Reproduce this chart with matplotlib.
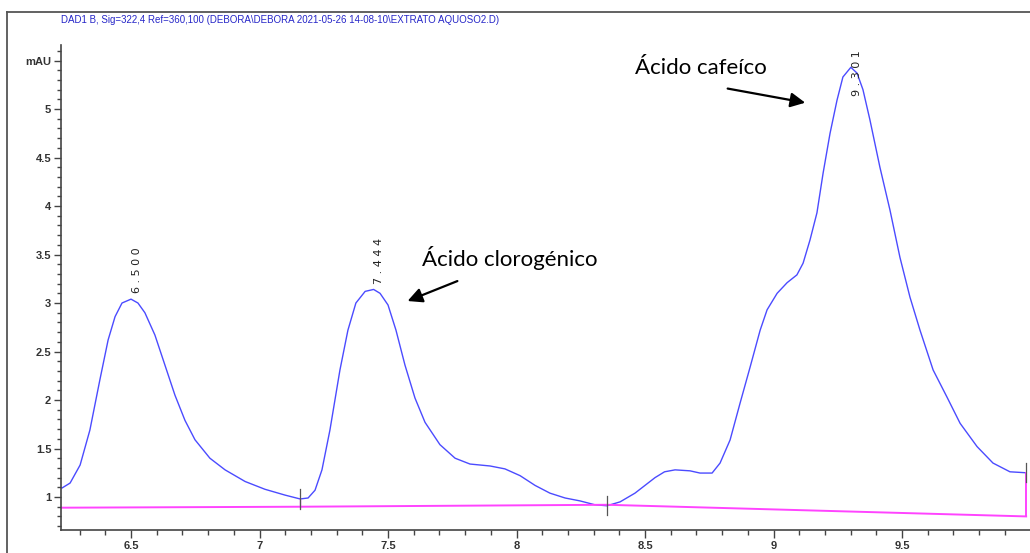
import matplotlib.pyplot as plt
from matplotlib.lines import Line2D
from matplotlib.ticker import MultipleLocator, FixedLocator, FormatStrFormatter

# DAD1 B trace (retention time in min, absorbance in mAU)
rt = [6.2315, 6.263, 6.302, 6.340, 6.379, 6.411, 6.438, 6.465, 6.500, 6.527,
      6.554, 6.593, 6.632, 6.671, 6.710, 6.749, 6.807, 6.866, 6.944, 7.021,
      7.099, 7.158, 7.189, 7.216, 7.243, 7.274, 7.313, 7.344, 7.375, 7.411,
      7.444, 7.469, 7.500, 7.531, 7.566, 7.605, 7.644, 7.702, 7.761, 7.819,
      7.897, 7.955, 8.014, 8.072, 8.130, 8.189, 8.247, 8.305, 8.352, 8.403,
      8.461, 8.500, 8.539, 8.576, 8.617, 8.675, 8.714, 8.761, 8.792, 8.831,
      8.870, 8.909, 8.948, 8.975, 9.014, 9.053, 9.091, 9.115, 9.142, 9.169,
      9.193, 9.220, 9.247, 9.270, 9.301, 9.325, 9.348, 9.375, 9.414, 9.453,
      9.492, 9.531, 9.570, 9.621, 9.675, 9.726, 9.792, 9.854, 9.920, 9.983]
mau = [1.093, 1.144, 1.33, 1.69, 2.21, 2.62, 2.86, 3.00, 3.04, 3.00,
       2.90, 2.67, 2.36, 2.05, 1.79, 1.59, 1.40, 1.28, 1.16, 1.08,
       1.02, 0.98, 0.99, 1.07, 1.28, 1.69, 2.31, 2.72, 3.00, 3.12,
       3.14, 3.10, 2.98, 2.72, 2.36, 2.02, 1.77, 1.54, 1.40, 1.34,
       1.32, 1.29, 1.22, 1.12, 1.04, 0.99, 0.96, 0.92, 0.91, 0.95,
       1.04, 1.12, 1.20, 1.26, 1.28, 1.27, 1.247, 1.247, 1.35, 1.588,
       1.969, 2.34, 2.72, 2.93, 3.10, 3.21, 3.29, 3.41, 3.65, 3.93,
       4.34, 4.75, 5.09, 5.33, 5.43, 5.37, 5.20, 4.89, 4.40, 3.96,
       3.47, 3.06, 2.72, 2.31, 2.03, 1.76, 1.52, 1.35, 1.26, 1.25]

# integration baseline
base_rt = [6.2315, 7.158, 8.352, 9.983]
base_mau = [0.89, 0.90, 0.92, 0.80]

# peak retention times and apex heights
peak_rt = [6.500, 7.444, 9.301]
peak_mau = [3.04, 3.14, 5.43]
peak_labels = ['6 . 5 0 0', '7 . 4 4 4', '9 . 3 0 1']

# peak boundaries (start/end marks)
cut_rt = [7.158, 8.352, 9.983]
cut_mau = [0.98, 0.91, 1.25]

title = 'DAD1 B, Sig=322,4 Ref=360,100 (DEBORA\\DEBORA 2021-05-26 14-08-10\\EXTRATO AQUOSO2.D)'
sans = ['Liberation Sans', 'DejaVu Sans']

fig = plt.figure(figsize=(10.3, 5.53), dpi=100)
ax = fig.add_axes([61 / 1030, 1 - 530 / 553, 969 / 1030, 485 / 553])
ymin, ymax = 0.66, 5.66

ax.plot(rt, mau, color='#4b4bff', lw=1.0)
ax.plot(base_rt, base_mau, color='#ff44ff', lw=1.4)
ax.plot([base_rt[-1], base_rt[-1]], [base_mau[-1], cut_mau[-1]], color='#ff44ff', lw=1.4)
ax.plot([base_rt[1], base_rt[1]], [base_mau[1], cut_mau[0]], color='#ff44ff', lw=1.0)
for x, y in zip(cut_rt, cut_mau):
    ax.plot([x, x], [y - 0.1, y + 0.1], color='#555555', lw=0.9)

# retention time labels above each apex; pushed down when they would leave the plot
for x, y, lab in zip(peak_rt, peak_mau, peak_labels):
    if y + 0.6 < ymax:
        ax.text(x + 0.022, y + 0.06, lab, rotation=90, ha='center', va='bottom',
                fontsize=8, color='#222222', family='DejaVu Sans')
    else:
        ax.text(x + 0.022, ymax - 0.05, lab, rotation=90, ha='center', va='top',
                fontsize=8, color='#222222', family='DejaVu Sans')

ax.set_xlim(6.2276, 9.998)
ax.set_ylim(ymin, ymax)

ax.xaxis.set_major_locator(MultipleLocator(0.5))
ax.xaxis.set_major_formatter(FormatStrFormatter('%g'))
ax.xaxis.set_minor_locator(MultipleLocator(0.1))
yt = [1, 1.5, 2, 2.5, 3, 3.5, 4, 4.5, 5, 5.5]
ax.yaxis.set_major_locator(FixedLocator(yt))
ax.set_yticklabels(['1', '1.5', '2', '2.5', '3', '3.5', '4', '4.5', '5', 'mAU'])
ax.yaxis.set_minor_locator(MultipleLocator(0.1))

ax.tick_params(axis='x', which='major', length=6, width=1, color='#444444', pad=2)
ax.tick_params(axis='x', which='minor', length=3.5, width=1, color='#444444')
ax.tick_params(axis='y', which='major', length=5, width=1, color='#444444', pad=2)
ax.tick_params(axis='y', which='minor', length=3, width=1, color='#444444')
for lab in ax.get_xticklabels() + ax.get_yticklabels():
    lab.set_family(sans)
    lab.set_fontsize(8)
    lab.set_fontweight('bold')
    lab.set_color('#333333')

for side in ['top', 'right']:
    ax.spines[side].set_visible(False)
for side in ['left', 'bottom']:
    ax.spines[side].set_color('#444444')
    ax.spines[side].set_linewidth(1.2)

fig.text(280 / 1030, 1 - 20 / 553, title, ha='center', va='center',
         fontsize=7, color='#2626c8', family=sans)

# outer frame
fig.add_artist(Line2D([7 / 1030, 7 / 1030], [0, 1 - 12 / 553], color='#555555', lw=1.3))
fig.add_artist(Line2D([7 / 1030, 1], [1 - 12 / 553, 1 - 12 / 553], color='#555555', lw=1.3))

arrow = dict(arrowstyle='-|>', color='black', lw=1.6, mutation_scale=22)
ax.annotate('', xy=(9.134, 5.06), xytext=(8.811, 5.216), arrowprops=arrow)
ax.annotate('', xy=(7.566, 3.01), xytext=(7.78, 3.237), arrowprops=arrow)
ax.text(8.718, 5.42, 'Ácido cafeíco', ha='center', va='center', fontsize=16,
        family='Lato', color='black')
ax.text(7.975, 3.46, 'Ácido clorogénico', ha='center', va='center', fontsize=16,
        family='Lato', color='black')

fig.savefig('out.png', dpi=100)
